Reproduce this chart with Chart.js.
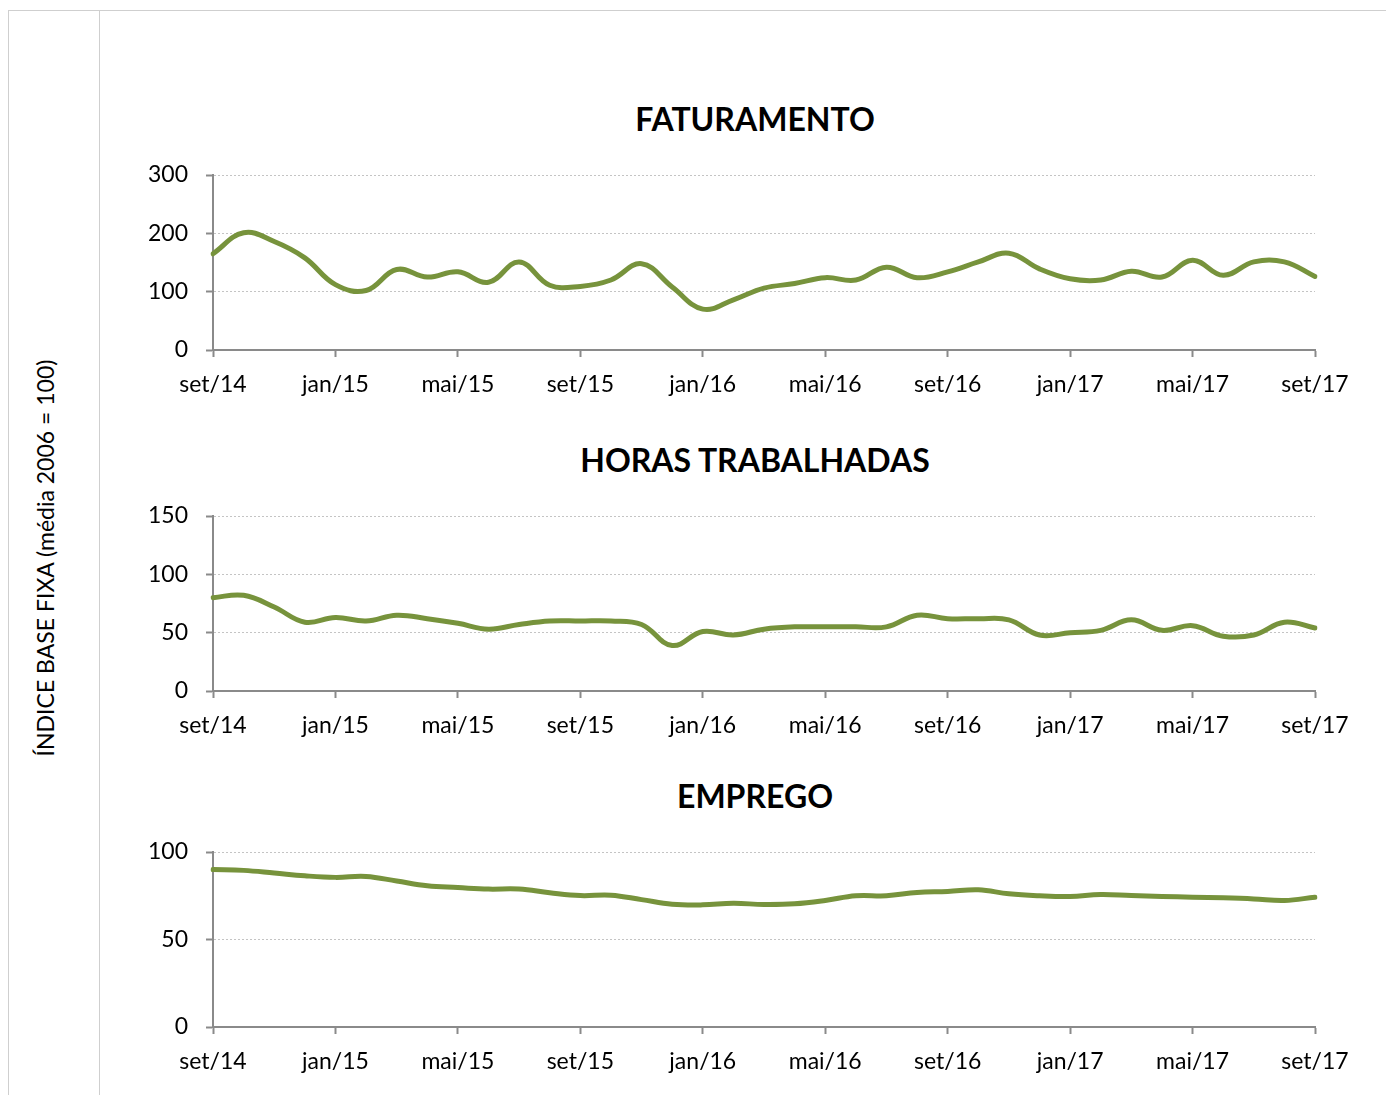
<!DOCTYPE html>
<html>
<head>
<meta charset="utf-8">
<script src="https://cdn.jsdelivr.net/npm/chart.js@4"></script>
<style>
  html, body { margin: 0; padding: 0; background: #fff; }
  body { width: 1386px; height: 1095px; position: relative; overflow: hidden; font-family: Lato, "Open Sans", sans-serif; }
  #frame { position: absolute; left: 8px; top: 10px; width: 1400px; height: 1100px; border-top: 1px solid #cfcfcf; border-left: 1px solid #cfcfcf; }
  #sep { position: absolute; left: 99px; top: 10px; width: 1px; height: 1100px; background: #cfcfcf; }
  #ytitle { position: absolute; left: 45px; top: 558px; transform: translate(-50%, -50%) rotate(-90deg); white-space: nowrap; font-size: 23px; color: #000; font-family: Lato, "Open Sans", sans-serif; }
  .ttl { position: absolute; left: 755px; transform: translateX(-50%); white-space: nowrap; font-size: 32px; line-height: 40px; font-weight: bold; color: #000; font-family: Lato, "Open Sans", sans-serif; }
  .cv { position: absolute; left: 100px; width: 1286px; height: 330px; }
</style>
</head>
<body>
<div id="frame"></div>
<div id="sep"></div>
<div id="ytitle">ÍNDICE BASE FIXA (média 2006 = 100)</div>
<div class="ttl" id="t1" style="top:99px"></div>
<div class="ttl" id="t2" style="top:440px"></div>
<div class="ttl" id="t3" style="top:776px"></div>
<div class="cv" style="top:70px"><canvas id="c1"></canvas></div>
<div class="cv" style="top:411px"><canvas id="c2"></canvas></div>
<div class="cv" style="top:747px"><canvas id="c3"></canvas></div>
<script>
const months = [
  'set/14','out/14','nov/14','dez/14',
  'jan/15','fev/15','mar/15','abr/15','mai/15','jun/15','jul/15','ago/15','set/15','out/15','nov/15','dez/15',
  'jan/16','fev/16','mar/16','abr/16','mai/16','jun/16','jul/16','ago/16','set/16','out/16','nov/16','dez/16',
  'jan/17','fev/17','mar/17','abr/17','mai/17','jun/17','jul/17','ago/17','set/17'
];

const faturamento = [165, 201, 186, 158, 112, 102, 138, 125, 134, 116, 151, 111, 109, 120, 148, 108, 70, 86, 106, 114,
  124, 120, 142, 124, 134, 151, 166, 139, 122, 120, 135, 125, 154, 128, 151, 151, 126];

const horas = [80, 82, 72, 59, 63, 60, 65, 62, 58, 53, 57, 60, 60, 60, 57, 39, 51, 48, 53, 55,
  55, 55, 55, 65, 62, 62, 61, 48, 50, 52, 61, 52, 56, 47, 48, 59, 54];

const emprego = [90, 89.5, 88, 86.4, 85.5, 86, 83.4, 80.7, 79.7, 78.8, 78.8, 76.7, 75.1, 75.3, 72.8, 70.2, 69.8, 70.7, 70, 70.4,
  72.3, 75, 75, 76.9, 77.4, 78.4, 76.1, 75, 74.6, 75.7, 75.1, 74.6, 74.2, 73.8, 73.2, 72.3, 74.2];

const titles = ['FATURAMENTO', 'HORAS TRABALHADAS', 'EMPREGO'];
const yMax = [300, 150, 100];
const yStep = [100, 50, 50];

const FONT = 'Lato, "Open Sans", sans-serif';
const LINE_COLOR = '#77933C';
const AXIS_COLOR = '#8a8a8a';
const GRID_COLOR = '#c4c4c4';

function makeChart(id, data, max, step) {
  return new Chart(document.getElementById(id), {
    type: 'line',
    data: {
      labels: months,
      datasets: [{
        data: data,
        borderColor: LINE_COLOR,
        borderWidth: 5,
        pointRadius: 0,
        tension: 0.4,
        fill: false,
        borderCapStyle: 'round',
        borderJoinStyle: 'round'
      }]
    },
    options: {
      responsive: true,
      maintainAspectRatio: false,
      animation: false,
      layout: { padding: { left: 0, right: 71, top: 105, bottom: 0 } },
      plugins: {
        legend: { display: false },
        tooltip: { enabled: false },
        title: { display: false }
      },
      scales: {
        x: {
          type: 'category',
          offset: false,
          afterBuildTicks: (scale) => { scale.ticks = scale.ticks.filter((t, i) => i % 4 === 0); },
          afterFit: (scale) => { scale.height = 50; },
          ticks: {
            autoSkip: false,
            maxRotation: 0,
            padding: 14,
            color: '#000',
            font: { family: FONT, size: 23 }
          },
          grid: {
            drawOnChartArea: false,
            drawTicks: true,
            tickLength: 7,
            tickColor: AXIS_COLOR,
            tickWidth: 2
          },
          border: { display: true, color: AXIS_COLOR, width: 2 }
        },
        y: {
          min: 0,
          max: max,
          afterFit: (scale) => { scale.width = 113; },
          ticks: {
            stepSize: step,
            padding: 18,
            color: '#000',
            font: { family: FONT, size: 23 }
          },
          grid: {
            color: GRID_COLOR,
            lineWidth: 1,
            drawTicks: true,
            tickLength: 7,
            tickColor: AXIS_COLOR,
            tickWidth: 2,
            tickBorderDash: []
          },
          border: { display: true, color: AXIS_COLOR, width: 2, dash: [2, 2] }
        }
      }
    }
  });
}

document.getElementById('t1').textContent = titles[0];
document.getElementById('t2').textContent = titles[1];
document.getElementById('t3').textContent = titles[2];

makeChart('c1', faturamento, yMax[0], yStep[0]);
makeChart('c2', horas, yMax[1], yStep[1]);
makeChart('c3', emprego, yMax[2], yStep[2]);
</script>
</body>
</html>
